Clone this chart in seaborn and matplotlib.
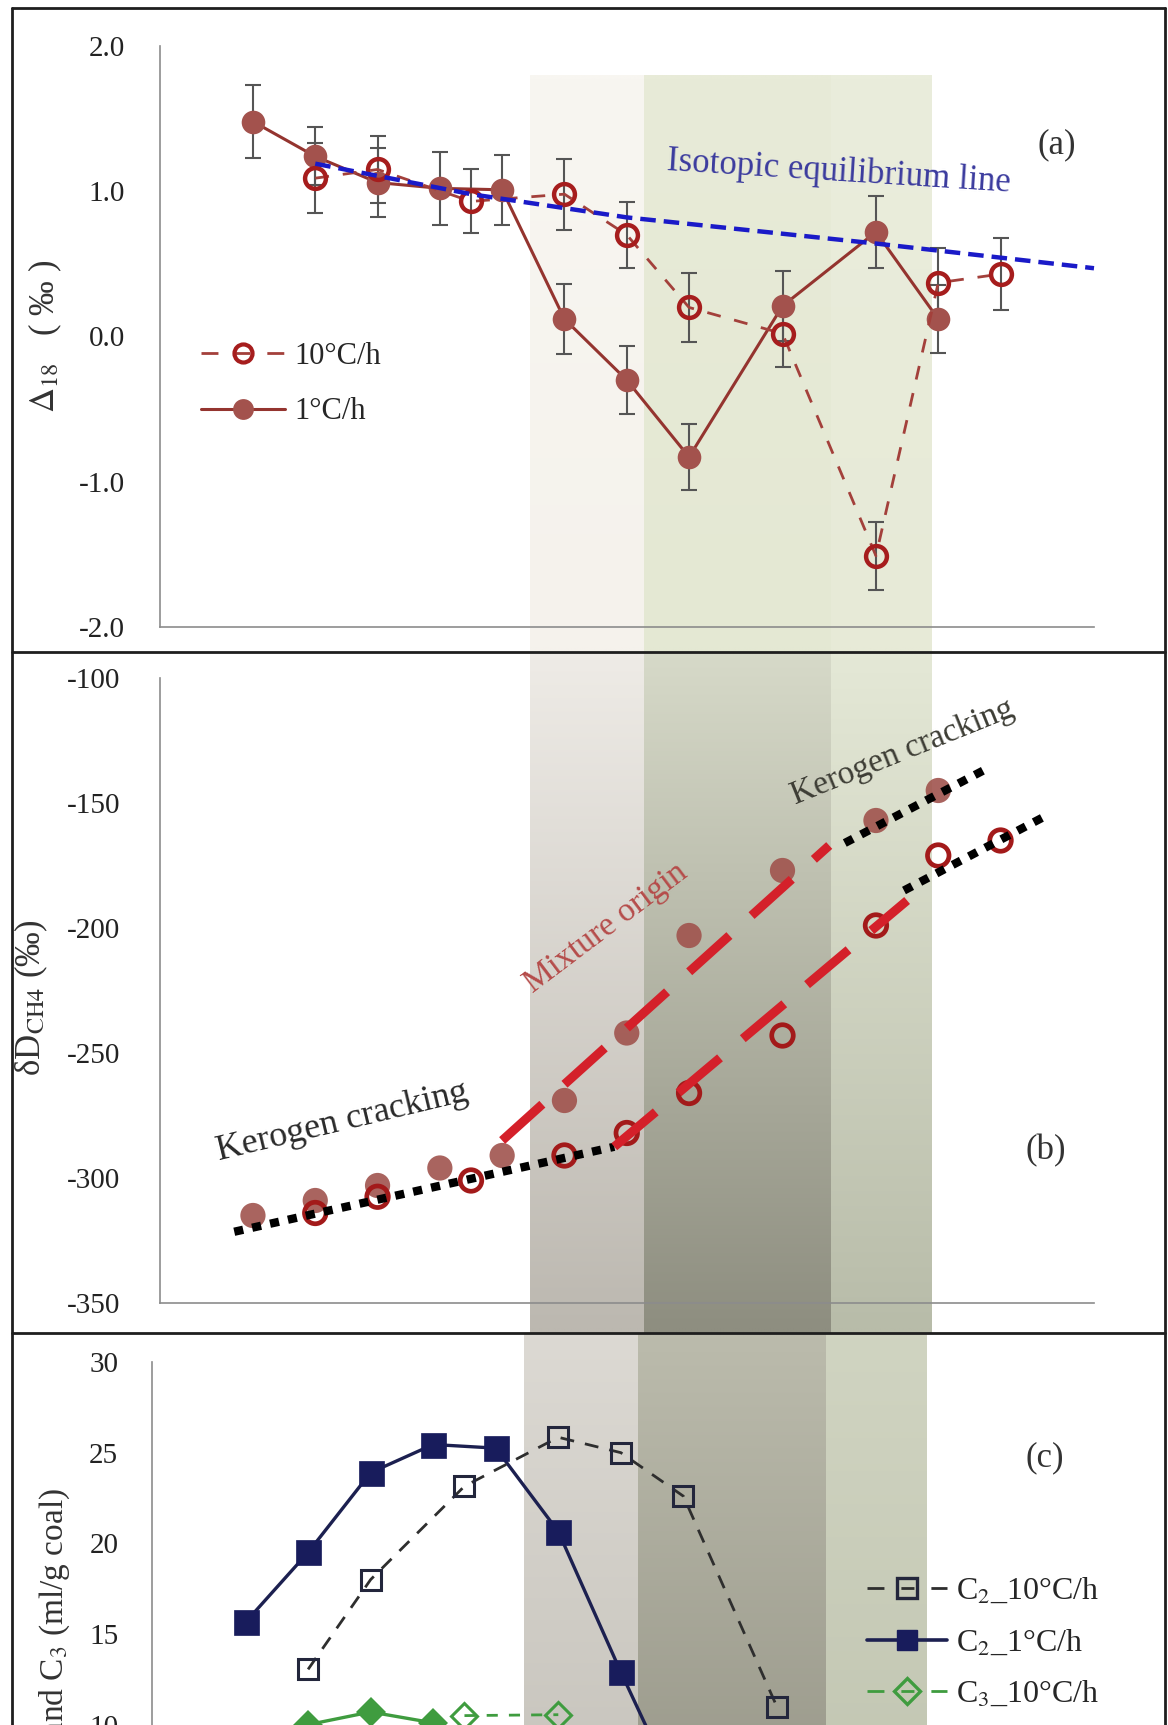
import numpy as np
import pandas as pd
import matplotlib
matplotlib.use("Agg")
import matplotlib.pyplot as plt
import seaborn as sns
from matplotlib.lines import Line2D
from matplotlib.colors import to_rgb

# ---------------- data ----------------
# panel (a): Delta18 (permil)
a_x_1 = [0.3, 0.5, 0.7, 0.9, 1.1, 1.3, 1.5, 1.7, 2.0, 2.3, 2.5]
a_y_1 = [1.48, 1.24, 1.06, 1.02, 1.01, 0.12, -0.30, -0.83, 0.21, 0.72, 0.12]
a_e_1 = [0.25, 0.20, 0.24, 0.25, 0.24, 0.24, 0.235, 0.23, 0.24, 0.245, 0.235]
a_x_10 = [0.5, 0.7, 1.0, 1.3, 1.5, 1.7, 2.0, 2.3, 2.5, 2.7]
a_y_10 = [1.09, 1.15, 0.93, 0.98, 0.70, 0.20, 0.02, -1.51, 0.37, 0.43]
a_e_10 = [0.24, 0.23, 0.22, 0.245, 0.225, 0.24, 0.23, 0.235, 0.24, 0.247]
eq_x = [0.5, 1.0, 1.5, 2.3, 3.0]
eq_y = [1.19, 0.98, 0.82, 0.64, 0.47]

# panel (b): dD CH4 (permil)
b_x_1 = [0.3, 0.5, 0.7, 0.9, 1.1, 1.3, 1.5, 1.7, 2.0, 2.3, 2.5]
b_y_1 = [-315, -309, -303, -296, -291, -269, -242, -203, -177, -157, -145]
b_x_10 = [0.5, 0.7, 1.0, 1.3, 1.5, 1.7, 2.0, 2.3, 2.5, 2.7]
b_y_10 = [-314, -307.5, -301, -291, -282, -266, -243, -199, -171, -165]
kc_low_x, kc_low_y = [0.24, 1.46], [-321.5, -287.5]
mix1_x, mix1_y = [1.10, 2.15], [-285, -167]
kc1_x, kc1_y = [2.20, 2.66], [-166, -136]
mix10_x, mix10_y = [1.46, 2.40], [-287.5, -189]
kc10_x, kc10_y = [2.39, 2.84], [-185, -155.5]

# panel (c): C2 and C3 yields (ml/g coal)
c2_1_x = [0.3, 0.5, 0.7, 0.9, 1.1, 1.3, 1.5, 1.7]
c2_1_y = [15.65, 19.5, 23.9, 25.45, 25.25, 20.65, 12.9, 5.5]
c2_10_x = [0.5, 0.7, 1.0, 1.3, 1.5, 1.7, 2.0]
c2_10_y = [13.05, 18.0, 23.15, 25.85, 25.0, 22.6, 10.95]
c3_10_x = [1.0, 1.3]
c3_10_y = [10.5, 10.55]
c3_1_x = [0.5, 0.7, 0.9]
c3_1_y = [10.0, 10.7, 10.1]

band_edges = [1.19, 1.555, 2.155, 2.477]

# ---------------- style ----------------
sns.set_theme(style="white")
plt.rcParams["font.family"] = ["Liberation Serif", "DejaVu Serif"]
plt.rcParams["mathtext.fontset"] = "stix"
plt.rcParams["axes.unicode_minus"] = False

W, H = 1168, 1725
fig = plt.figure(figsize=(W / 100, H / 100), dpi=100)
fig.patch.set_facecolor("white")


def px_axes(left, right, top, bottom):
    return fig.add_axes([left / W, 1 - bottom / H, (right - left) / W, (bottom - top) / H])


axA = px_axes(159.5, 1094, 46, 627)
axB = px_axes(159.5, 1094, 678, 1303)
axC = px_axes(151.7, 1090, 1362, 1906)

SP = "#8c8c8c"
for ax in (axA, axB, axC):
    ax.set_facecolor("none")
    for s in ("top", "right"):
        ax.spines[s].set_visible(False)
    for s in ("left", "bottom"):
        ax.spines[s].set_color(SP)
        ax.spines[s].set_linewidth(1.2)
    ax.tick_params(direction="in", length=8.5, width=1.1, color=SP,
                   labelsize=21, labelcolor="#222222")
    ax.set_xlim(0, 3)
    ax.set_xticks([1, 2, 3])
    ax.set_xticklabels([])


def band(ax, x0, x1, y_top, y_bot, c_top, c_bot):
    t = np.linspace(0, 1, 64)[:, None]
    ct, cb = np.array(to_rgb(c_top)), np.array(to_rgb(c_bot))
    img = (ct[None, :] * (1 - t) + cb[None, :] * t)[:, None, :]
    ax.imshow(img, extent=(x0, x1, y_bot, y_top), origin="upper",
              aspect="auto", zorder=0, clip_on=False, interpolation="bilinear")


e = band_edges
# ---- panel a bands ----
band(axA, e[0], e[1], 1.8, -2.17, "#f8f6f1", "#f5f2ec")
band(axA, e[1], e[2], 1.8, -2.17, "#e8ebd8", "#e4e8d3")
band(axA, e[2], e[3], 1.8, -2.17, "#eaeddc", "#e7ead7")
# ---- panel b bands ----
band(axB, e[0], e[1], -90, -362, "#eeebe6", "#bcb8b0")
band(axB, e[1], e[2], -90, -362, "#d6d9c8", "#8e8e80")
band(axB, e[2], e[3], -90, -362, "#e4e8d6", "#b8bca9")
# ---- panel c bands ----
band(axC, e[0], e[1], 31.5, 0, "#dcd9d3", "#c2bfb7")
band(axC, e[1], e[2], 31.5, 0, "#bbbbac", "#929183")
band(axC, e[2], e[3], 31.5, 0, "#d0d4c1", "#bfc3af")

# ================= panel (a) =================
RED_OPEN = "#a61d1d"
FILL_A = "#a3524d"
axA.errorbar(a_x_1, a_y_1, yerr=a_e_1, fmt="none", ecolor="#555555",
             elinewidth=1.5, capsize=5.5, capthick=1.5, zorder=2)
axA.errorbar(a_x_10, a_y_10, yerr=a_e_10, fmt="none", ecolor="#555555",
             elinewidth=1.5, capsize=5.5, capthick=1.5, zorder=2)
sns.lineplot(x=a_x_1, y=a_y_1, ax=axA, color="#94342f", linewidth=2.2,
             marker="o", markersize=17, markerfacecolor=FILL_A,
             markeredgecolor=FILL_A, markeredgewidth=0, sort=False,
             errorbar=None, zorder=3)
sns.lineplot(x=a_x_10, y=a_y_10, ax=axA, color="#a3403b", linewidth=2.0,
             linestyle=(0, (5, 5)), marker="o", markersize=15,
             markerfacecolor="none", markeredgecolor=RED_OPEN,
             markeredgewidth=3.2, sort=False, errorbar=None, zorder=4)
axA.plot(eq_x, eq_y, color="#1a1ac8", linewidth=3.2, linestyle=(0, (3.5, 1.8)),
         zorder=5, clip_on=False)

axA.set_ylim(-2, 2)
axA.set_yticks([-2, -1, 0, 1, 2])
axA.set_yticklabels([f"{v:.1f}" for v in [-2, -1, 0, 1, 2]])
axA.tick_params(axis="y", pad=25)
axA.set_ylabel(r"$\Delta_{18}$   ( ‰ )", fontsize=25, color="#333333")
axA.yaxis.label.set_va("center")
axA.yaxis.set_label_coords(-0.1225, 0.50)

axA.text(2.181, 1.135, "Isotopic equilibrium line", color="#3b3b9e",
         fontsize=25, rotation=-3.6, ha="center", va="center")
axA.text(2.88, 1.32, "(a)", fontsize=25, color="#333333", ha="center", va="center")

hA = [Line2D([], [], color="#a3403b", lw=2.0, ls=(0, (6.1, 6.1, 5.4, 6.1)),
             marker="o", markersize=13, markerfacecolor="none",
             markeredgecolor=RED_OPEN, markeredgewidth=3),
      Line2D([], [], color="#94342f", lw=2.2, marker="o", markersize=15,
             markerfacecolor=FILL_A, markeredgecolor=FILL_A, markeredgewidth=0)]
axA.legend(hA, ["10°C/h", "1°C/h"], loc="center left",
           bbox_to_anchor=(0.0444, 0.418), frameon=False, fontsize=22,
           handlelength=2.75, handletextpad=0.32, labelspacing=0.86,
           borderpad=0, borderaxespad=0, numpoints=1)

# ================= panel (b) =================
RED_T = "#d4202a"
sns.scatterplot(x=b_x_1, y=b_y_1, ax=axB, s=330, color="#a0534d",
                edgecolor="none", linewidth=0, zorder=2, alpha=0.9)
sns.scatterplot(x=b_x_10, y=b_y_10, ax=axB, s=240, facecolor="none",
                edgecolor="#a31a1a", linewidth=3.4, zorder=2)
dot_kw = dict(color="black", linewidth=6, linestyle=(0, (1.1, 1.1)),
              dash_capstyle="butt", zorder=4)
red_kw = dict(color=RED_T, linewidth=6.5, linestyle=(0, (6.0, 3.3)),
              dash_capstyle="butt", zorder=4)
axB.plot(kc_low_x, kc_low_y, **dot_kw)
axB.plot(kc1_x, kc1_y, **dot_kw)
axB.plot(kc10_x, kc10_y, **dot_kw)
axB.plot(mix1_x, mix1_y, **red_kw)
axB.plot(mix10_x, mix10_y, **red_kw)

axB.set_ylim(-350, -100)
axB.set_yticks([-350, -300, -250, -200, -150, -100])
axB.set_yticklabels([str(v) for v in [-350, -300, -250, -200, -150, -100]])
axB.tick_params(axis="y", pad=28)
axB.set_ylabel(r"δD$_{\mathrm{CH4}}$ (‰)", fontsize=25, color="#333333")
axB.yaxis.label.set_va("center")
axB.yaxis.set_label_coords(-0.137, 0.488)

axB.text(0.587, -277.5, "Kerogen cracking", fontsize=26, color="#2a2a2a",
         rotation=13.5, ha="center", va="center")
axB.text(1.432, -200, "Mixture origin", fontsize=24, color="#b54c4a",
         rotation=37, ha="center", va="center")
axB.text(2.384, -129.6, "Kerogen cracking", fontsize=24, color="#3d3d35",
         rotation=22, ha="center", va="center")
axB.text(2.845, -289.2, "(b)", fontsize=25, color="#333333", ha="center", va="center")

# ================= panel (c) =================
NAVY = "#181c5c"
GREEN = "#3f9c3f"
sns.lineplot(x=c2_1_x, y=c2_1_y, ax=axC, color="#1c2050", linewidth=2.4,
             marker="s", markersize=18, markerfacecolor=NAVY,
             markeredgecolor=NAVY, markeredgewidth=0.5, sort=False,
             errorbar=None, zorder=3)
sns.lineplot(x=c2_10_x, y=c2_10_y, ax=axC, color="#2e2e2e", linewidth=2.0,
             linestyle=(0, (5, 4)), marker="s", markersize=14,
             markerfacecolor="none", markeredgecolor="#23263c",
             markeredgewidth=2.2, sort=False, errorbar=None, zorder=3)
sns.lineplot(x=c3_10_x, y=c3_10_y, ax=axC, color=GREEN, linewidth=2.0,
             linestyle=(0, (4, 4)), marker="D", markersize=13,
             markerfacecolor="none", markeredgecolor=GREEN,
             markeredgewidth=2.2, sort=False, errorbar=None, zorder=3)
sns.lineplot(x=c3_1_x, y=c3_1_y, ax=axC, color=GREEN, linewidth=2.4,
             marker="D", markersize=15, markerfacecolor=GREEN,
             markeredgecolor=GREEN, markeredgewidth=0, sort=False,
             errorbar=None, zorder=3)

axC.set_ylim(0, 30)
axC.set_yticks([0, 5, 10, 15, 20, 25, 30])
axC.set_yticklabels([str(v) for v in [0, 5, 10, 15, 20, 25, 30]])
axC.tick_params(axis="y", pad=24)
axC.set_ylabel(r"C$_2$ and C$_3$ (ml/g coal)", fontsize=24, color="#333333")
axC.yaxis.label.set_va("center")
axC.yaxis.set_label_coords(-0.103, 0.5)
axC.text(2.856, 24.7, "(c)", fontsize=25, color="#333333", ha="center", va="center")

leg_dash = (0, (6.1, 6.1, 4.7, 6.1))
hC = [Line2D([], [], color="#2e2e2e", lw=2.0, ls=leg_dash, marker="s",
             markersize=14, markerfacecolor="none", markeredgecolor="#23263c",
             markeredgewidth=2.4),
      Line2D([], [], color="#1c2050", lw=2.6, marker="s", markersize=15,
             markerfacecolor=NAVY, markeredgecolor=NAVY),
      Line2D([], [], color=GREEN, lw=2.0, ls=leg_dash, marker="D",
             markersize=13, markerfacecolor="none", markeredgecolor=GREEN,
             markeredgewidth=2.4),
      Line2D([], [], color=GREEN, lw=2.6, marker="D", markersize=14,
             markerfacecolor=GREEN, markeredgecolor=GREEN)]
axC.legend(hC, ["C$_2$_10°C/h", "C$_2$_1°C/h", "C$_3$_10°C/h", "C$_3$_1°C/h"],
           loc="upper left", bbox_to_anchor=(0.762, 0.605), frameon=False,
           fontsize=23, handlelength=2.5, handletextpad=0.3, labelspacing=0.69,
           borderpad=0, borderaxespad=0, numpoints=1)

# ---------------- panel frames ----------------
def fline(x0, y0, x1, y1, lw=2.0):
    fig.add_artist(Line2D([x0 / W, x1 / W], [1 - y0 / H, 1 - y1 / H],
                          color="#1e1e1e", linewidth=lw, zorder=10))


fline(12, 8, 1165, 8)
fline(12, 8, 12, H)
fline(1165, 8, 1165, H)
fline(12, 652, 1165, 652)
fline(12, 1333, 1165, 1333)

fig.savefig("out.png", dpi=100, facecolor="white")
